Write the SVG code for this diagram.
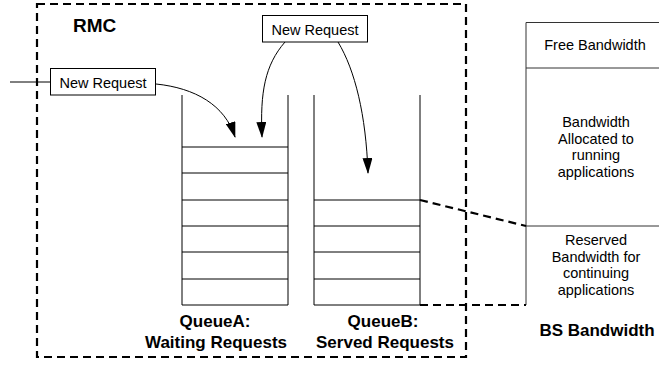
<svg xmlns="http://www.w3.org/2000/svg" width="659" height="366" viewBox="0 0 659 366">
<style>
.bg{fill:#fff}
.ln{stroke:#000;stroke-width:1;fill:none}
.gl{stroke:#333;stroke-width:1;fill:none}
.dash{stroke:#000;stroke-width:2.2;fill:none;stroke-dasharray:8,5}
.box{fill:#fff;stroke:#000;stroke-width:1}
.t{font-family:"Liberation Sans",Arial,sans-serif;font-size:14.5px;fill:#000;text-anchor:middle}
.b{font-family:"Liberation Sans",Arial,sans-serif;font-size:17px;font-weight:bold;fill:#000;text-anchor:middle}
.arr{stroke:#000;stroke-width:1;fill:none;marker-end:url(#ah)}
</style>
<defs>
<marker id="ah" markerWidth="16" markerHeight="10" refX="15" refY="5" viewBox="0 0 16 10" orient="auto" markerUnits="userSpaceOnUse">
<path d="M0,0 L16,5 L0,10 Z" fill="#000"/>
</marker>
</defs>
<rect class="bg" x="0" y="0" width="659" height="366"/>
<g id="rmc">
<path class="dash" d="M37,4 H466 V357 H37 Z"/>
<text class="b" x="73" y="32" style="text-anchor:start;font-size:19px">RMC</text>
</g>
<g id="queueA">
<path class="ln" d="M182,95 V305 H288 V95 M182,147 H288 M182,173 H288 M182,200 H288 M182,226 H288 M182,252 H288 M182,279 H288"/>
<text class="b" x="215" y="327">QueueA:</text>
<text class="b" x="216" y="348">Waiting Requests</text>
</g>
<g id="queueB">
<path class="ln" d="M314,95 V305 H420 V95 M314,200 H420 M314,226 H420 M314,252 H420 M314,279 H420"/>
<text class="b" x="383" y="327">QueueB:</text>
<text class="b" x="385" y="348">Served Requests</text>
</g>
<g id="bandwidth">
<path class="gl" d="M526,305 V22.5 H659 M526,68 H659 M526,226 H659"/>
<text class="t" x="595" y="50">Free Bandwidth</text>
<text class="t" x="596" y="127">Bandwidth</text>
<text class="t" x="596" y="143.5">Allocated to</text>
<text class="t" x="596" y="160">running</text>
<text class="t" x="596" y="176.5">applications</text>
<text class="t" x="596" y="245">Reserved</text>
<text class="t" x="596" y="261.5">Bandwidth for</text>
<text class="t" x="596" y="278">continuing</text>
<text class="t" x="596" y="294.5">applications</text>
<text class="b" x="597" y="336">BS Bandwidth</text>
</g>
<g id="req1">
<rect class="box" x="50.5" y="68.5" width="105" height="26.5"/>
<text class="t" x="103" y="87.5">New Request</text>
</g>
<g id="req2">
<rect class="box" x="262.5" y="15.5" width="105" height="26.5"/>
<text class="t" x="315" y="34.5">New Request</text>
</g>
<g id="connectors">
<path class="ln" d="M10,82 H50"/>
<path class="arr" d="M156,84 C195,88 225,105 235,137"/>
<path class="arr" d="M285,42 C265,65 260,92 262,137"/>
<path class="arr" d="M338,42 C355,70 366,115 368,173"/>
<path class="dash" d="M420,200 L526,226"/>
<path class="dash" d="M420,305 H526"/>
</g>
</svg>
